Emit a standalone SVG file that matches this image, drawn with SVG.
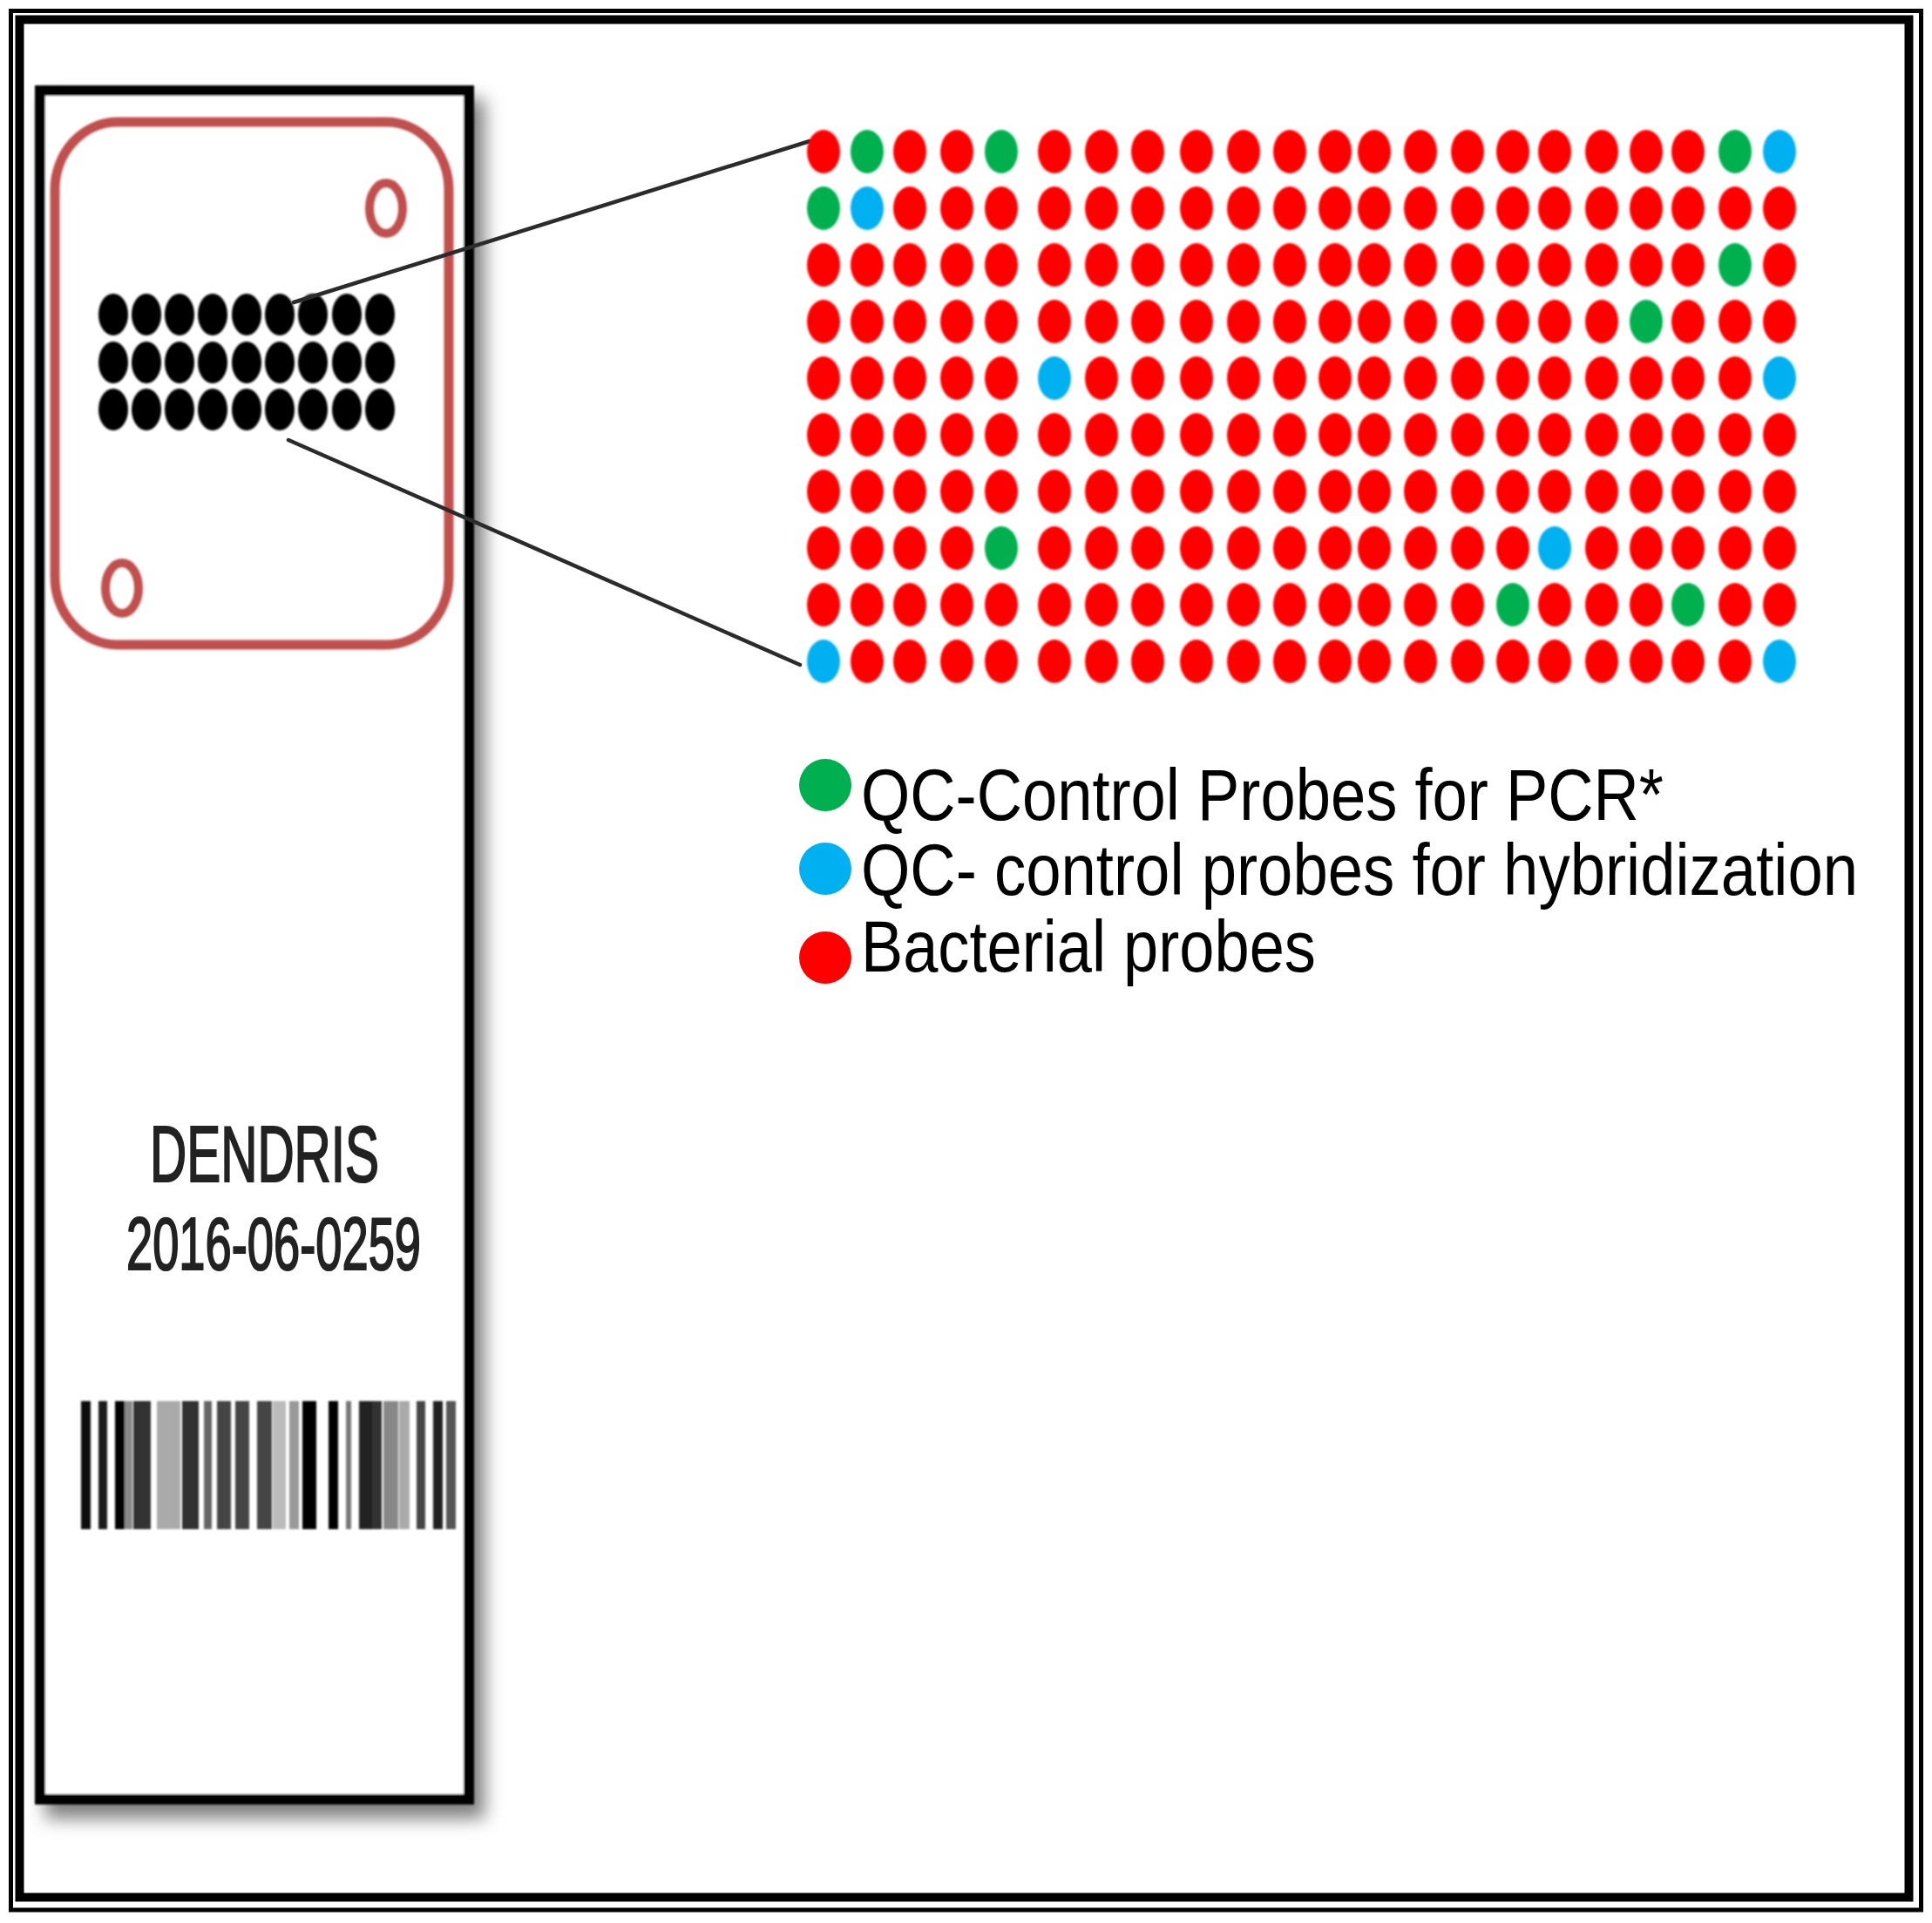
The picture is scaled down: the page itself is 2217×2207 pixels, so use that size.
<svg xmlns="http://www.w3.org/2000/svg" width="2217" height="2207" viewBox="0 0 2217 2207">
<style>
.r{fill:#FF0000}.g{fill:#00B050}.b{fill:#00B0F0}.k{fill:#000}
.lbl{font-family:"Liberation Sans",Arial,sans-serif;fill:#000;font-size:77px}
.slidetxt{font-family:"Liberation Sans",Arial,sans-serif;fill:#222;stroke:#222;stroke-width:2.2}
.conn{stroke:#2b2b2b;stroke-width:4.5;fill:none;stroke-linecap:round}
.ring{fill:none;stroke:#C0504D;stroke-width:10}
</style>
<defs>
<ellipse id="d" cx="0" cy="0" rx="19" ry="25"/>
<ellipse id="m" cx="0" cy="0" rx="17" ry="24"/>
<filter id="sh" x="-10%" y="-10%" width="130%" height="130%">
<feGaussianBlur in="SourceGraphic" stdDeviation="1.2" result="s"/>
<feDropShadow in="s" dx="12" dy="16" stdDeviation="10" flood-color="#000" flood-opacity="0.5"/>
</filter>
<filter id="soft"><feGaussianBlur stdDeviation="1"/></filter>
</defs>
<rect width="2217" height="2207" fill="#fff"/>
<g id="frame" fill="none" stroke="#000">
<rect x="12.5" y="12.5" width="2192" height="2179.5" stroke-width="5"/>
<rect x="22.5" y="22.5" width="2168" height="2155" stroke-width="10"/>
</g>
<g id="slide">
<rect x="46" y="104" width="492" height="1961" fill="#fff" stroke="#000" stroke-width="12" filter="url(#sh)"/>
</g>
<g id="chip-area" filter="url(#soft)">
<rect x="63" y="140" width="452" height="600" rx="72" ry="78" fill="none" stroke="#C0504D" stroke-width="11"/>
<ellipse class="ring" cx="443" cy="239" rx="19" ry="29"/>
<ellipse class="ring" cx="140" cy="675" rx="19" ry="29"/>
</g>
<g id="mini-array" class="k" filter="url(#soft)">
<use href="#m" x="130" y="361"/><use href="#m" x="168" y="361"/><use href="#m" x="206" y="361"/><use href="#m" x="244" y="361"/><use href="#m" x="283" y="361"/><use href="#m" x="321" y="361"/><use href="#m" x="359" y="361"/><use href="#m" x="398" y="361"/><use href="#m" x="436" y="361"/>
<use href="#m" x="130" y="416"/><use href="#m" x="168" y="416"/><use href="#m" x="206" y="416"/><use href="#m" x="244" y="416"/><use href="#m" x="283" y="416"/><use href="#m" x="321" y="416"/><use href="#m" x="359" y="416"/><use href="#m" x="398" y="416"/><use href="#m" x="436" y="416"/>
<use href="#m" x="130" y="470"/><use href="#m" x="168" y="470"/><use href="#m" x="206" y="470"/><use href="#m" x="244" y="470"/><use href="#m" x="283" y="470"/><use href="#m" x="321" y="470"/><use href="#m" x="359" y="470"/><use href="#m" x="398" y="470"/><use href="#m" x="436" y="470"/>
</g>
<g id="slide-label">
<text class="slidetxt" x="172" y="1356" font-size="91" textLength="263" lengthAdjust="spacingAndGlyphs">DENDRIS</text>
<text class="slidetxt" x="145" y="1457" font-size="85" textLength="338" lengthAdjust="spacingAndGlyphs">2016-06-0259</text>
</g>
<g id="barcode" filter="url(#soft)">
<rect x="93" y="1608" width="11" height="147" fill="#111"/>
<rect x="113" y="1608" width="10" height="147" fill="#1a1a1a"/>
<rect x="132" y="1608" width="11" height="147" fill="#000"/>
<rect x="143" y="1608" width="9" height="147" fill="#888"/>
<rect x="153" y="1608" width="20" height="147" fill="#333"/>
<rect x="180" y="1608" width="27" height="147" fill="#aaa"/>
<rect x="209" y="1608" width="19" height="147" fill="#333"/>
<rect x="234" y="1608" width="9" height="147" fill="#666"/>
<rect x="249" y="1608" width="16" height="147" fill="#444"/>
<rect x="270" y="1608" width="16" height="147" fill="#444"/>
<rect x="295" y="1608" width="17" height="147" fill="#444"/>
<rect x="313" y="1608" width="15" height="147" fill="#bbb"/>
<rect x="332" y="1608" width="11" height="147" fill="#999"/>
<rect x="347" y="1608" width="16" height="147" fill="#000"/>
<rect x="377" y="1608" width="11" height="147" fill="#000"/>
<rect x="397" y="1608" width="6" height="147" fill="#777"/>
<rect x="412" y="1608" width="15" height="147" fill="#222"/>
<rect x="427" y="1608" width="11" height="147" fill="#333"/>
<rect x="440" y="1608" width="17" height="147" fill="#888"/>
<rect x="458" y="1608" width="12" height="147" fill="#aaa"/>
<rect x="478" y="1608" width="10" height="147" fill="#444"/>
<rect x="497" y="1608" width="11" height="147" fill="#222"/>
<rect x="512" y="1608" width="11" height="147" fill="#555"/>
</g>
<g id="connectors">
<line class="conn" x1="337" y1="347" x2="929" y2="162"/>
<line class="conn" x1="331" y1="505" x2="918" y2="763"/>
</g>
<g id="probe-array" filter="url(#soft)">
<g id="row0"><use href="#d" class="r" x="945" y="174"/><use href="#d" class="g" x="995" y="174"/><use href="#d" class="r" x="1044" y="174"/><use href="#d" class="r" x="1098" y="174"/><use href="#d" class="g" x="1149" y="174"/><use href="#d" class="r" x="1210" y="174"/><use href="#d" class="r" x="1264" y="174"/><use href="#d" class="r" x="1317" y="174"/><use href="#d" class="r" x="1373" y="174"/><use href="#d" class="r" x="1427" y="174"/><use href="#d" class="r" x="1480" y="174"/><use href="#d" class="r" x="1532" y="174"/><use href="#d" class="r" x="1577" y="174"/><use href="#d" class="r" x="1630" y="174"/><use href="#d" class="r" x="1684" y="174"/><use href="#d" class="r" x="1736" y="174"/><use href="#d" class="r" x="1784" y="174"/><use href="#d" class="r" x="1838" y="174"/><use href="#d" class="r" x="1889" y="174"/><use href="#d" class="r" x="1937" y="174"/><use href="#d" class="g" x="1991" y="174"/><use href="#d" class="b" x="2042" y="174"/></g>
<g id="row1"><use href="#d" class="g" x="945" y="239"/><use href="#d" class="b" x="995" y="239"/><use href="#d" class="r" x="1044" y="239"/><use href="#d" class="r" x="1098" y="239"/><use href="#d" class="r" x="1149" y="239"/><use href="#d" class="r" x="1210" y="239"/><use href="#d" class="r" x="1264" y="239"/><use href="#d" class="r" x="1317" y="239"/><use href="#d" class="r" x="1373" y="239"/><use href="#d" class="r" x="1427" y="239"/><use href="#d" class="r" x="1480" y="239"/><use href="#d" class="r" x="1532" y="239"/><use href="#d" class="r" x="1577" y="239"/><use href="#d" class="r" x="1630" y="239"/><use href="#d" class="r" x="1684" y="239"/><use href="#d" class="r" x="1736" y="239"/><use href="#d" class="r" x="1784" y="239"/><use href="#d" class="r" x="1838" y="239"/><use href="#d" class="r" x="1889" y="239"/><use href="#d" class="r" x="1937" y="239"/><use href="#d" class="r" x="1991" y="239"/><use href="#d" class="r" x="2042" y="239"/></g>
<g id="row2"><use href="#d" class="r" x="945" y="304"/><use href="#d" class="r" x="995" y="304"/><use href="#d" class="r" x="1044" y="304"/><use href="#d" class="r" x="1098" y="304"/><use href="#d" class="r" x="1149" y="304"/><use href="#d" class="r" x="1210" y="304"/><use href="#d" class="r" x="1264" y="304"/><use href="#d" class="r" x="1317" y="304"/><use href="#d" class="r" x="1373" y="304"/><use href="#d" class="r" x="1427" y="304"/><use href="#d" class="r" x="1480" y="304"/><use href="#d" class="r" x="1532" y="304"/><use href="#d" class="r" x="1577" y="304"/><use href="#d" class="r" x="1630" y="304"/><use href="#d" class="r" x="1684" y="304"/><use href="#d" class="r" x="1736" y="304"/><use href="#d" class="r" x="1784" y="304"/><use href="#d" class="r" x="1838" y="304"/><use href="#d" class="r" x="1889" y="304"/><use href="#d" class="r" x="1937" y="304"/><use href="#d" class="g" x="1991" y="304"/><use href="#d" class="r" x="2042" y="304"/></g>
<g id="row3"><use href="#d" class="r" x="945" y="369"/><use href="#d" class="r" x="995" y="369"/><use href="#d" class="r" x="1044" y="369"/><use href="#d" class="r" x="1098" y="369"/><use href="#d" class="r" x="1149" y="369"/><use href="#d" class="r" x="1210" y="369"/><use href="#d" class="r" x="1264" y="369"/><use href="#d" class="r" x="1317" y="369"/><use href="#d" class="r" x="1373" y="369"/><use href="#d" class="r" x="1427" y="369"/><use href="#d" class="r" x="1480" y="369"/><use href="#d" class="r" x="1532" y="369"/><use href="#d" class="r" x="1577" y="369"/><use href="#d" class="r" x="1630" y="369"/><use href="#d" class="r" x="1684" y="369"/><use href="#d" class="r" x="1736" y="369"/><use href="#d" class="r" x="1784" y="369"/><use href="#d" class="r" x="1838" y="369"/><use href="#d" class="g" x="1889" y="369"/><use href="#d" class="r" x="1937" y="369"/><use href="#d" class="r" x="1991" y="369"/><use href="#d" class="r" x="2042" y="369"/></g>
<g id="row4"><use href="#d" class="r" x="945" y="434"/><use href="#d" class="r" x="995" y="434"/><use href="#d" class="r" x="1044" y="434"/><use href="#d" class="r" x="1098" y="434"/><use href="#d" class="r" x="1149" y="434"/><use href="#d" class="b" x="1210" y="434"/><use href="#d" class="r" x="1264" y="434"/><use href="#d" class="r" x="1317" y="434"/><use href="#d" class="r" x="1373" y="434"/><use href="#d" class="r" x="1427" y="434"/><use href="#d" class="r" x="1480" y="434"/><use href="#d" class="r" x="1532" y="434"/><use href="#d" class="r" x="1577" y="434"/><use href="#d" class="r" x="1630" y="434"/><use href="#d" class="r" x="1684" y="434"/><use href="#d" class="r" x="1736" y="434"/><use href="#d" class="r" x="1784" y="434"/><use href="#d" class="r" x="1838" y="434"/><use href="#d" class="r" x="1889" y="434"/><use href="#d" class="r" x="1937" y="434"/><use href="#d" class="r" x="1991" y="434"/><use href="#d" class="b" x="2042" y="434"/></g>
<g id="row5"><use href="#d" class="r" x="945" y="499"/><use href="#d" class="r" x="995" y="499"/><use href="#d" class="r" x="1044" y="499"/><use href="#d" class="r" x="1098" y="499"/><use href="#d" class="r" x="1149" y="499"/><use href="#d" class="r" x="1210" y="499"/><use href="#d" class="r" x="1264" y="499"/><use href="#d" class="r" x="1317" y="499"/><use href="#d" class="r" x="1373" y="499"/><use href="#d" class="r" x="1427" y="499"/><use href="#d" class="r" x="1480" y="499"/><use href="#d" class="r" x="1532" y="499"/><use href="#d" class="r" x="1577" y="499"/><use href="#d" class="r" x="1630" y="499"/><use href="#d" class="r" x="1684" y="499"/><use href="#d" class="r" x="1736" y="499"/><use href="#d" class="r" x="1784" y="499"/><use href="#d" class="r" x="1838" y="499"/><use href="#d" class="r" x="1889" y="499"/><use href="#d" class="r" x="1937" y="499"/><use href="#d" class="r" x="1991" y="499"/><use href="#d" class="r" x="2042" y="499"/></g>
<g id="row6"><use href="#d" class="r" x="945" y="564"/><use href="#d" class="r" x="995" y="564"/><use href="#d" class="r" x="1044" y="564"/><use href="#d" class="r" x="1098" y="564"/><use href="#d" class="r" x="1149" y="564"/><use href="#d" class="r" x="1210" y="564"/><use href="#d" class="r" x="1264" y="564"/><use href="#d" class="r" x="1317" y="564"/><use href="#d" class="r" x="1373" y="564"/><use href="#d" class="r" x="1427" y="564"/><use href="#d" class="r" x="1480" y="564"/><use href="#d" class="r" x="1532" y="564"/><use href="#d" class="r" x="1577" y="564"/><use href="#d" class="r" x="1630" y="564"/><use href="#d" class="r" x="1684" y="564"/><use href="#d" class="r" x="1736" y="564"/><use href="#d" class="r" x="1784" y="564"/><use href="#d" class="r" x="1838" y="564"/><use href="#d" class="r" x="1889" y="564"/><use href="#d" class="r" x="1937" y="564"/><use href="#d" class="r" x="1991" y="564"/><use href="#d" class="r" x="2042" y="564"/></g>
<g id="row7"><use href="#d" class="r" x="945" y="629"/><use href="#d" class="r" x="995" y="629"/><use href="#d" class="r" x="1044" y="629"/><use href="#d" class="r" x="1098" y="629"/><use href="#d" class="g" x="1149" y="629"/><use href="#d" class="r" x="1210" y="629"/><use href="#d" class="r" x="1264" y="629"/><use href="#d" class="r" x="1317" y="629"/><use href="#d" class="r" x="1373" y="629"/><use href="#d" class="r" x="1427" y="629"/><use href="#d" class="r" x="1480" y="629"/><use href="#d" class="r" x="1532" y="629"/><use href="#d" class="r" x="1577" y="629"/><use href="#d" class="r" x="1630" y="629"/><use href="#d" class="r" x="1684" y="629"/><use href="#d" class="r" x="1736" y="629"/><use href="#d" class="b" x="1784" y="629"/><use href="#d" class="r" x="1838" y="629"/><use href="#d" class="r" x="1889" y="629"/><use href="#d" class="r" x="1937" y="629"/><use href="#d" class="r" x="1991" y="629"/><use href="#d" class="r" x="2042" y="629"/></g>
<g id="row8"><use href="#d" class="r" x="945" y="694"/><use href="#d" class="r" x="995" y="694"/><use href="#d" class="r" x="1044" y="694"/><use href="#d" class="r" x="1098" y="694"/><use href="#d" class="r" x="1149" y="694"/><use href="#d" class="r" x="1210" y="694"/><use href="#d" class="r" x="1264" y="694"/><use href="#d" class="r" x="1317" y="694"/><use href="#d" class="r" x="1373" y="694"/><use href="#d" class="r" x="1427" y="694"/><use href="#d" class="r" x="1480" y="694"/><use href="#d" class="r" x="1532" y="694"/><use href="#d" class="r" x="1577" y="694"/><use href="#d" class="r" x="1630" y="694"/><use href="#d" class="r" x="1684" y="694"/><use href="#d" class="g" x="1736" y="694"/><use href="#d" class="r" x="1784" y="694"/><use href="#d" class="r" x="1838" y="694"/><use href="#d" class="r" x="1889" y="694"/><use href="#d" class="g" x="1937" y="694"/><use href="#d" class="r" x="1991" y="694"/><use href="#d" class="r" x="2042" y="694"/></g>
<g id="row9"><use href="#d" class="b" x="945" y="759"/><use href="#d" class="r" x="995" y="759"/><use href="#d" class="r" x="1044" y="759"/><use href="#d" class="r" x="1098" y="759"/><use href="#d" class="r" x="1149" y="759"/><use href="#d" class="r" x="1210" y="759"/><use href="#d" class="r" x="1264" y="759"/><use href="#d" class="r" x="1317" y="759"/><use href="#d" class="r" x="1373" y="759"/><use href="#d" class="r" x="1427" y="759"/><use href="#d" class="r" x="1480" y="759"/><use href="#d" class="r" x="1532" y="759"/><use href="#d" class="r" x="1577" y="759"/><use href="#d" class="r" x="1630" y="759"/><use href="#d" class="r" x="1684" y="759"/><use href="#d" class="r" x="1736" y="759"/><use href="#d" class="r" x="1784" y="759"/><use href="#d" class="r" x="1838" y="759"/><use href="#d" class="r" x="1889" y="759"/><use href="#d" class="r" x="1937" y="759"/><use href="#d" class="r" x="1991" y="759"/><use href="#d" class="b" x="2042" y="759"/></g>
</g>
<g id="legend-pcr">
<ellipse class="g" cx="947" cy="901" rx="30" ry="30"/>
<text class="lbl" transform="translate(988,941) scale(1,1.08)" x="0" y="0" textLength="921" lengthAdjust="spacingAndGlyphs">QC-Control Probes for PCR*</text>
</g>
<g id="legend-hyb">
<ellipse class="b" cx="947" cy="997" rx="30" ry="30"/>
<text class="lbl" transform="translate(988,1027) scale(1,1.08)" x="0" y="0" textLength="1144" lengthAdjust="spacingAndGlyphs">QC- control probes for hybridization</text>
</g>
<g id="legend-bact">
<ellipse class="r" cx="947" cy="1099" rx="30" ry="30"/>
<text class="lbl" transform="translate(988,1115) scale(1,1.08)" x="0" y="0" textLength="522" lengthAdjust="spacingAndGlyphs">Bacterial probes</text>
</g>
</svg>
